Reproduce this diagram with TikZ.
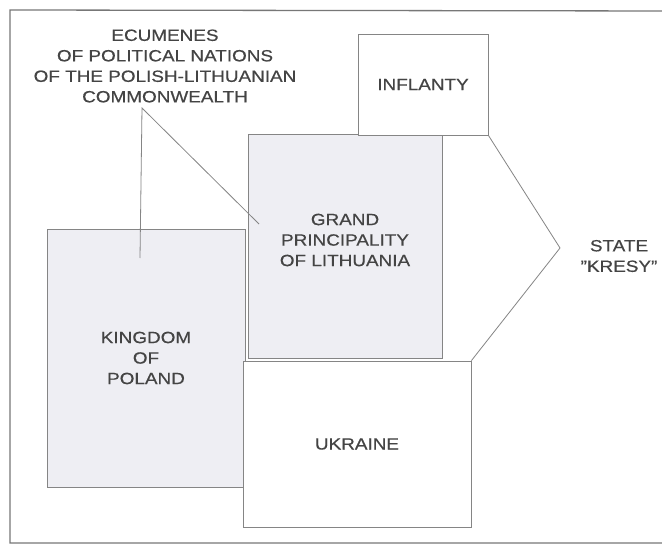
\documentclass[tikz,border=0pt]{standalone}
\usepackage{fontspec}
\setmainfont{Liberation Sans}[FakeStretch=1.16,FakeBold=0.5]
\definecolor{linecol}{HTML}{858585}
\definecolor{framecol}{HTML}{777777}
\definecolor{txtcol}{HTML}{444444}
\definecolor{shade}{HTML}{EEEEF3}
\begin{document}
\begin{tikzpicture}[x=1pt,y=-1pt,
  region/.style={draw=linecol, line width=0.9pt, inner sep=0pt, anchor=center},
  shaded/.style={region, fill=shade},
  plain/.style={region, fill=white},
  lbl/.style={text=txtcol, align=center, font=\fontsize{16.3}{20.5}\selectfont, inner sep=0pt},
  conn/.style={draw=linecol, line width=0.8pt}]
\useasboundingbox (0,0) rectangle (662,546);
\fill[white] (0,0) rectangle (662,546);
\draw[framecol, line width=1.3pt] (675,11) -- (10,10) -- (10,543) -- (675,543);
% regions
\node[shaded, minimum width=198pt, minimum height=258pt] (poland) at (146,358) {};
\node[shaded, minimum width=194pt, minimum height=224pt] (lith) at (345,246) {};
\node[plain, minimum width=228pt, minimum height=166pt] (ukr) at (357,444) {};
\node[plain, minimum width=130pt, minimum height=101pt] (infl) at (423,84.5) {};
% arrow to kresy
\coordinate (tip) at (560,248);
\draw[conn] (infl.south east) -- (tip) -- (ukr.north east);
% labels
\node[lbl] (tpoland) at (poland.center) {KINGDOM\\OF\\POLAND};
\node[lbl] (tlith) at (345,240) {GRAND\\PRINCIPALITY\\OF LITHUANIA};
\node[lbl] (tukr) at (ukr.center) {UKRAINE};
\node[lbl] (tinfl) at (infl.center) {INFLANTY};
\node[lbl] (tkresy) at (619,256) {STATE\\"KRESY"};
\node[lbl] (tecu) at (165,66) {ECUMENES\\OF POLITICAL NATIONS\\OF THE POLISH-LITHUANIAN\\COMMONWEALTH};
% connectors from the ecumenes label
\coordinate (apex) at (142,108);
\coordinate (endp) at (140,258);
\coordinate (endl) at (259,224);
\draw[conn] (endp) -- (apex) -- (endl);
\end{tikzpicture}
\end{document}
